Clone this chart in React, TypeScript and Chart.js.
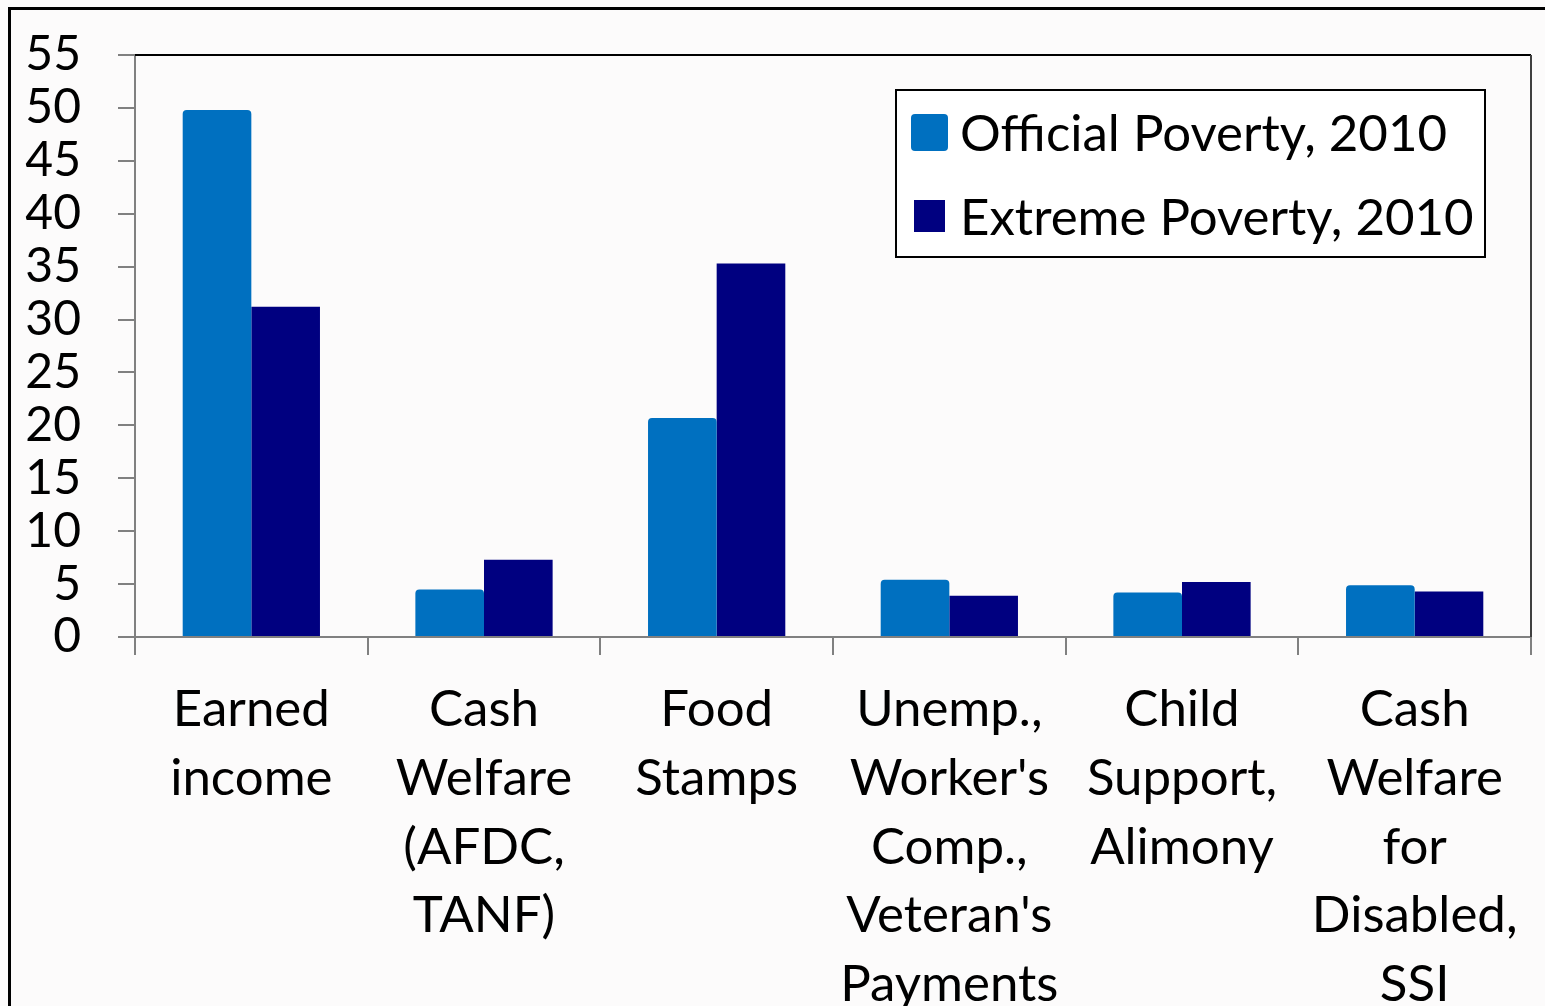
import React, { useEffect, useRef } from "react";
import { Chart, registerables } from "chart.js";

Chart.register(...registerables);

const categories: string[][] = [
  ["Earned", "income"],
  ["Cash", "Welfare", "(AFDC,", "TANF)"],
  ["Food", "Stamps"],
  ["Unemp.,", "Worker's", "Comp.,", "Veteran's", "Payments"],
  ["Child", "Support,", "Alimony"],
  ["Cash", "Welfare", "for", "Disabled,", "SSI"],
];
const officialPoverty: number[] = [49.8, 4.5, 20.7, 5.4, 4.2, 4.9];
const extremePoverty: number[] = [31.2, 7.3, 35.3, 3.9, 5.2, 4.3];
const seriesLabels: string[] = ["Official Poverty, 2010", "Extreme Poverty, 2010"];
const yTicks: number[] = [0, 5, 10, 15, 20, 25, 30, 35, 40, 45, 50, 55];

const OFFICIAL = "#0070C0";
const EXTREME = "#000080";
const FONT = "Lato, 'Open Sans', sans-serif";

const frameBorders = {
  id: "frameBorders",
  afterDraw(chart: any) {
    const { ctx, chartArea } = chart;
    ctx.save();
    ctx.lineWidth = 2;
    ctx.strokeStyle = "#000000";
    ctx.beginPath();
    ctx.moveTo(chartArea.left, chartArea.top);
    ctx.lineTo(chartArea.right, chartArea.top);
    ctx.stroke();
    ctx.strokeStyle = "#404040";
    ctx.beginPath();
    ctx.moveTo(chartArea.right, chartArea.top);
    ctx.lineTo(chartArea.right, chartArea.bottom);
    ctx.stroke();
    ctx.restore();
  },
};

export default function App() {
  const ref = useRef<HTMLCanvasElement | null>(null);

  useEffect(() => {
    if (!ref.current) return;
    const chart = new Chart(ref.current, {
      type: "bar",
      data: {
        labels: categories,
        datasets: [
          {
            label: seriesLabels[0],
            data: officialPoverty,
            backgroundColor: OFFICIAL,
            borderRadius: 4,
            borderSkipped: "bottom",
          },
          {
            label: seriesLabels[1],
            data: extremePoverty,
            backgroundColor: EXTREME,
          },
        ],
      },
      options: {
        animation: false,
        responsive: false,
        maintainAspectRatio: false,
        layout: { padding: { top: 55, right: 14, left: 0, bottom: 0 } },
        plugins: {
          legend: { display: false },
          tooltip: { enabled: false },
        },
        datasets: {
          bar: { categoryPercentage: 0.59, barPercentage: 1.0 },
        },
        scales: {
          x: {
            grid: {
              offset: true,
              drawOnChartArea: false,
              drawTicks: true,
              tickLength: 18,
              color: "#808080",
              lineWidth: 2,
            },
            border: { color: "#808080", width: 2 },
            ticks: {
              color: "#000000",
              font: { family: FONT, size: 51, lineHeight: 1.35 },
              maxRotation: 0,
              autoSkip: false,
              padding: 20,
            },
            afterFit(scale: any) {
              scale.height = 1006 - 637;
              scale.paddingLeft = 0;
              scale.paddingRight = 0;
              scale.paddingTop = 0;
              scale.paddingBottom = 0;
            },
          },
          y: {
            min: 0,
            max: 55,
            afterBuildTicks(scale: any) {
              scale.ticks = yTicks.map((v) => ({ value: v }));
            },
            grid: {
              drawOnChartArea: false,
              drawTicks: true,
              tickLength: 17,
              color: "#808080",
              lineWidth: 2,
            },
            border: { color: "#808080", width: 2 },
            ticks: {
              color: "#000000",
              font: { family: FONT, size: 48 },
              padding: 37,
              autoSkip: false,
              stepSize: 5,
            },
            afterFit(scale: any) {
              scale.width = 135;
              scale.paddingTop = 0;
              scale.paddingBottom = 0;
              scale.paddingLeft = 0;
              scale.paddingRight = 0;
            },
          },
        },
      },
      plugins: [frameBorders],
    });
    return () => chart.destroy();
  }, []);

  return (
    <div
      style={{
        position: "fixed",
        left: 0,
        top: 0,
        width: 1545,
        height: 1006,
        background: "#fcfbfb",
        overflow: "hidden",
      }}
    >
      <div
        style={{
          position: "absolute",
          left: 8,
          top: 7,
          width: 1600,
          height: 1100,
          borderLeft: "3px solid #000",
          borderTop: "3px solid #000",
        }}
      />
      <canvas
        ref={ref}
        width={1545}
        height={1006}
        style={{ position: "absolute", left: 0, top: 0, width: 1545, height: 1006 }}
      />
      <div
        style={{
          position: "absolute",
          left: 895,
          top: 89,
          width: 587,
          height: 165,
          border: "2px solid #000",
          background: "#ffffff",
          fontFamily: FONT,
          fontSize: 51,
          color: "#000",
        }}
      >
        <div style={{ position: "absolute", left: 14, top: 20, display: "flex", alignItems: "center", height: 42 }}>
          <div style={{ width: 37, height: 37, background: OFFICIAL, borderRadius: 4, marginRight: 12 }} />
          <span style={{ lineHeight: "42px", whiteSpace: "nowrap" }}>{seriesLabels[0]}</span>
        </div>
        <div style={{ position: "absolute", left: 17, top: 104, display: "flex", alignItems: "center", height: 42 }}>
          <div style={{ width: 31, height: 32, background: EXTREME, marginRight: 15 }} />
          <span style={{ lineHeight: "42px", whiteSpace: "nowrap" }}>{seriesLabels[1]}</span>
        </div>
      </div>
    </div>
  );
}
